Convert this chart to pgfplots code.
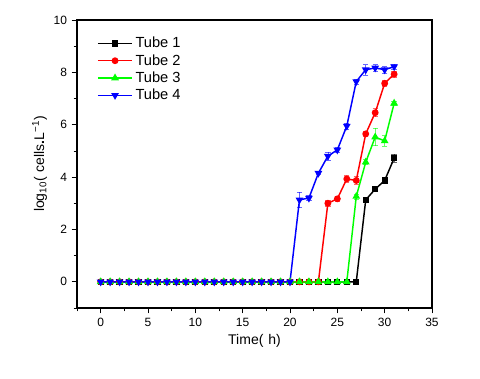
\documentclass[border=0pt]{standalone}
\usepackage{fontspec}
\setmainfont{Liberation Sans}
\usepackage{pgfplots}
\pgfplotsset{compat=1.18}
\begin{document}
\begin{tikzpicture}
\begin{axis}[
  scale only axis,
  width=266.25pt, height=216pt,
  xmin=-2.5, xmax=35, ymin=-1, ymax=10,
  xtick={0,5,...,35}, ytick={0,2,...,10},
  minor xtick={-2.5,2.5,7.5,12.5,17.5,22.5,27.5,32.5},
  minor ytick={-1,1,3,5,7,9},
  tick align=outside, tick pos=left,
  major tick length=4pt, minor tick length=2.5pt,
  every tick/.style={black, line width=0.6pt},
  axis line style={line width=0.9pt},
  /pgf/number format/assume math mode=true,
  tick label style={font=\fontsize{9pt}{10pt}\selectfont},
  xlabel={Time(\hspace{0.35em}h)},
  ylabel={log\textsubscript{10}(\hspace{0.35em}cells\textbf{.}L\textsuperscript{−1})},
  label style={font=\fontsize{10.5pt}{12pt}\selectfont},
  xlabel style={yshift=1pt},
  ylabel style={yshift=-2pt},
  legend style={draw=none, fill=none, at={(0.045,0.96)}, anchor=north west,
    font=\fontsize{11pt}{12pt}\selectfont, row sep=-0.5pt,
    legend cell align=left},
  legend image code/.code={\draw[mark repeat=2,mark phase=2,line width=1.1pt] plot coordinates {(0cm,0cm) (0.45cm,0cm) (0.9cm,0cm)};},
  every axis plot/.append style={line width=1.1pt, mark size=2pt},
  error bars/error bar style={line width=0.5pt, opacity=0.6},
  error bars/error mark options={rotate=90, mark size=2pt, line width=0.5pt},
]
\addplot[black, mark=square*, mark size=1.8pt, error bars/.cd, y dir=both, y explicit] coordinates {
(0,0) (1,0) (2,0) (3,0) (4,0) (5,0) (6,0) (7,0) (8,0) (9,0) (10,0) (11,0) (12,0) (13,0)
(14,0) (15,0) (16,0) (17,0) (18,0) (19,0) (20,0) (21,0) (22,0) (23,0) (24,0) (25,0) (26,0) (27,0)
(28,3.13) +- (0,0.08) (29,3.54) +- (0,0.08) (30,3.87) +- (0,0.08) (31,4.72) +- (0,0.15)
};
\addlegendentry{Tube 1}
\addplot[red, mark=*, error bars/.cd, y dir=both, y explicit] coordinates {
(0,0) (1,0) (2,0) (3,0) (4,0) (5,0) (6,0) (7,0) (8,0) (9,0) (10,0) (11,0) (12,0) (13,0)
(14,0) (15,0) (16,0) (17,0) (18,0) (19,0) (20,0) (21,0) (22,0) (23,0)
(24,3.0) +- (0,0.1) (25,3.17) +- (0,0.08) (26,3.93) +- (0,0.12) (27,3.87) +- (0,0.15)
(28,5.65) +- (0,0.1) (29,6.46) +- (0,0.15) (30,7.58) +- (0,0.1) (31,7.93) +- (0,0.12)
};
\addlegendentry{Tube 2}
\addplot[color={rgb,255:red,0;green,255;blue,0}, mark=triangle*, mark size=2.3pt, error bars/.cd, y dir=both, y explicit] coordinates {
(0,0) (1,0) (2,0) (3,0) (4,0) (5,0) (6,0) (7,0) (8,0) (9,0) (10,0) (11,0) (12,0) (13,0)
(14,0) (15,0) (16,0) (17,0) (18,0) (19,0) (20,0) (21,0) (22,0) (23,0) (24,0) (25,0) (26,0)
(27,3.26) +- (0,0.1) (28,4.57) +- (0,0.1) (29,5.53) +- (0,0.33) (30,5.38) +- (0,0.2) (31,6.82) +- (0,0.08)
};
\addlegendentry{Tube 3}
\addplot[blue, mark=triangle*, mark size=2.3pt, mark options={rotate=180}, error bars/.cd, y dir=both, y explicit] coordinates {
(0,0) (1,0) (2,0) (3,0) (4,0) (5,0) (6,0) (7,0) (8,0) (9,0) (10,0) (11,0) (12,0) (13,0)
(14,0) (15,0) (16,0) (17,0) (18,0) (19,0) (20,0)
(21,3.13) +- (0,0.3) (22,3.2) +- (0,0.1) (23,4.15) +- (0,0.06) (24,4.8) +- (0,0.15)
(25,5.04) +- (0,0.1) (26,5.95) +- (0,0.12) (27,7.65) +- (0,0.1) (28,8.1) +- (0,0.2)
(29,8.17) +- (0,0.12) (30,8.1) +- (0,0.12) (31,8.22) +- (0,0.1)
};
\addlegendentry{Tube 4}
\end{axis}
\pgfresetboundingbox
\path[use as bounding box] (-57.75pt,-53.25pt) rectangle (302.25pt,231pt);
\end{tikzpicture}
\end{document}
